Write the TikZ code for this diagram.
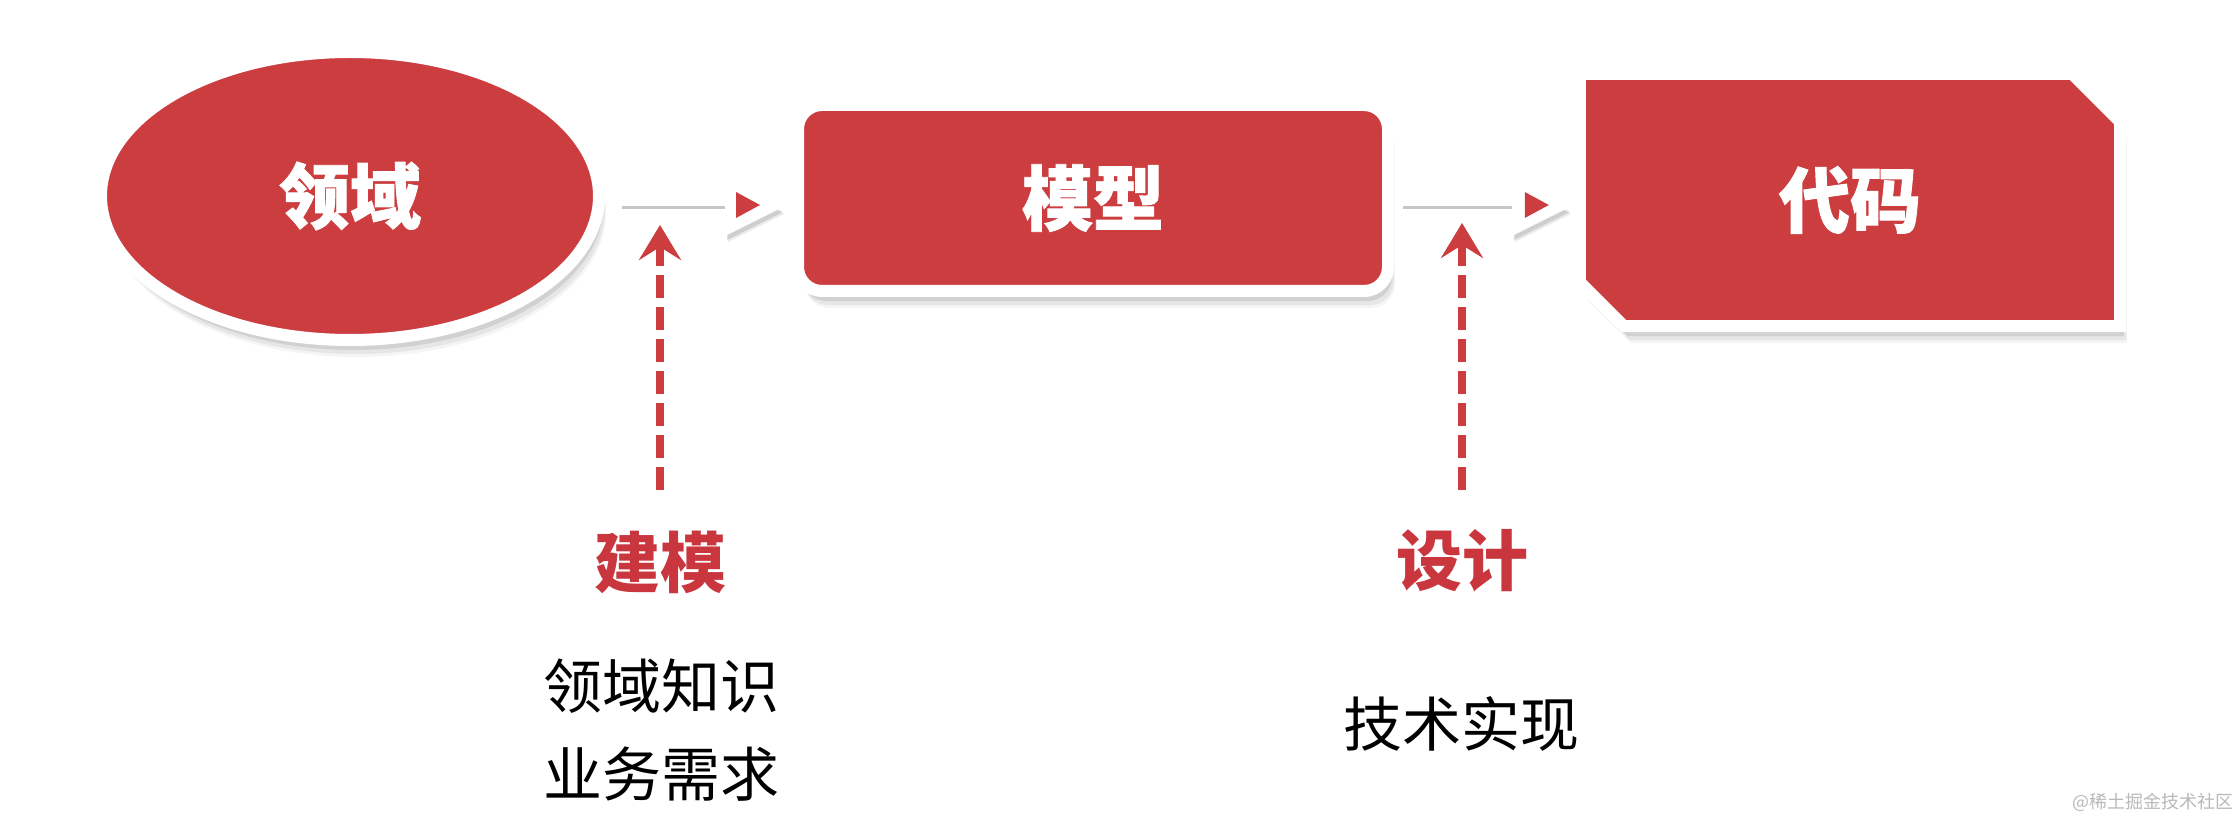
\documentclass[tikz,border=0pt]{standalone}
\usepackage{fontspec}
\newfontfamily\cjk{Noto Sans CJK SC}
\newfontfamily\cjkheavy{Noto Sans CJK SC}[FakeBold=1.3]
\usetikzlibrary{arrows.meta,shapes.geometric,shadows}
\definecolor{dred}{RGB}{204,61,64}
\definecolor{lred}{RGB}{201,54,62}
\begin{document}
\begin{tikzpicture}[x=1pt,y=-1pt,
  shapebox/.style={fill=dred, draw=white, line width=12pt,
    drop shadow={shadow xshift=7pt, shadow yshift=-17pt, opacity=0.04, fill=black},
    drop shadow={shadow xshift=6pt, shadow yshift=-14pt, opacity=0.06, fill=black},
    drop shadow={shadow xshift=4pt, shadow yshift=-10pt, opacity=0.09, fill=black}},
  title/.style={text=white, font=\cjkheavy\bfseries\fontsize{71}{71}\selectfont},
  hline/.style={draw=gray!45, line width=3pt},
  headbox/.style={fill=white,
    drop shadow={shadow xshift=3pt, shadow yshift=-6pt, opacity=0.08, fill=black},
    drop shadow={shadow xshift=2pt, shadow yshift=-4pt, opacity=0.12, fill=black}},
  dasharrow/.style={draw=dred, line width=8pt, dash pattern=on 23pt off 9pt,
    -{Stealth[length=35pt, width=42pt, inset=13pt]}},
  redlabel/.style={text=lred, font=\cjk\bfseries\fontsize{66}{66}\selectfont},
  blacklabel/.style={text=black, font=\cjk\fontsize{59}{59}\selectfont},
  wmark/.style={text=gray!55, font=\cjk\fontsize{18}{18}\selectfont}
]
\useasboundingbox[fill=white] (0,0) rectangle (2240,818);

% main shapes
\node[ellipse, shapebox, minimum width=498pt, minimum height=288pt, inner sep=0pt, title] (dom) at (350,196) {领域};
\node[rectangle, shapebox, rounded corners=24pt, minimum width=590pt, minimum height=186pt, inner sep=0pt, title] (mod) at (1093,198) {模型};
\node[rectangle, minimum width=540pt, minimum height=252pt, inner sep=0pt] (cod) at (1850,200) {};
\path[shapebox] (cod.north west) -- ([xshift=-48pt]cod.north east) -- ([yshift=-48pt]cod.north east)
  -- (cod.south east) -- ([xshift=44pt]cod.south west) -- ([yshift=44pt]cod.south west) -- cycle;
\node[title] (codt) at (cod.center) {代码};

% horizontal arrow 1
\coordinate (h1s) at ([xshift=17pt,yshift=-12pt]dom.east);
\coordinate (h1e) at (h1s -| mod.west);
\draw[hline] (h1s) -- ([xshift=-67pt]h1e);
\fill[headbox] ([xshift=-11pt]h1e) -- ++(-56,-28) -- ++(0,56) -- cycle;
\fill[dred] ([xshift=-11pt]h1e) ++(-45,-16) -- ++(0,26) -- ++(24,-13) -- cycle;

% horizontal arrow 2
\coordinate (h2s) at ([xshift=9pt]h1s -| mod.east);
\coordinate (h2e) at ([xshift=-12pt]h1s -| cod.west);
\draw[hline] (h2s) -- ([xshift=-56pt]h2e);
\fill[headbox] (h2e) -- ++(-56,-28) -- ++(0,56) -- cycle;
\fill[dred] (h2e) ++(-43,-16) -- ++(0,26) -- ++(24,-13) -- cycle;

% labels
\node[redlabel] (jm) at (660,562) {建模};
\node[blacklabel] (k1) at (661,686) {领域知识};
\node[blacklabel] (k2) at (661,774) {业务需求};
\node[redlabel] (sj) at (1462,561) {设计};
\node[blacklabel] (k3) at (1461,724) {技术实现};

% dashed arrows
\coordinate (b1) at (660,490);
\coordinate (t1) at (660,225);
\coordinate (b2) at (1462,490);
\coordinate (t2) at (1462,223);
\draw[dasharrow] (b1) -- (t1);
\draw[dasharrow] (b2) -- (t2);

% watermark
\node[wmark] (wm) at (2153,802) {@稀土掘金技术社区};
\end{tikzpicture}
\end{document}
